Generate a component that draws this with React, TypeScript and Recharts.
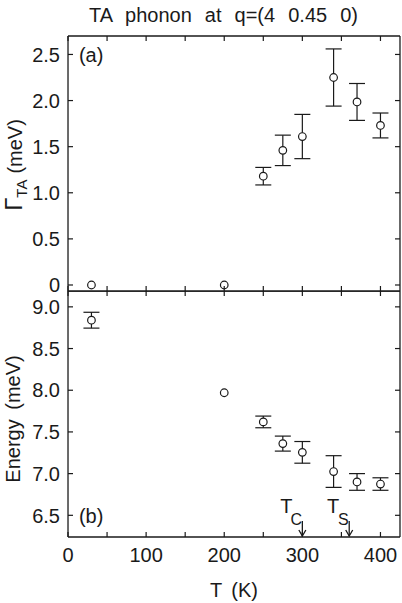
import React from "react";
import { ScatterChart, Scatter, XAxis, YAxis, ErrorBar, ReferenceDot } from "recharts";

// TA phonon at q=(4 0.45 0): linewidth (a) and energy (b) vs temperature
const temps = [30, 200, 250, 275, 300, 340, 370, 400];
const gamma = [0, 0, 1.18, 1.46, 1.61, 2.25, 1.985, 1.73];
const gammaErr = [null, null, 0.095, 0.165, 0.24, 0.31, 0.2, 0.135];
const energy = [8.84, 7.97, 7.62, 7.36, 7.255, 7.025, 6.9, 6.875];
const energyErr = [0.095, null, 0.07, 0.09, 0.13, 0.19, 0.1, 0.075];

const tTicks = [0, 50, 100, 150, 200, 250, 300, 350, 400];
const tLabels = [0, 100, 200, 300, 400];
const gammaTicks = [0, 0.5, 1.0, 1.5, 2.0, 2.5];
const energyTicks = [6.5, 7.0, 7.5, 8.0, 8.5, 9.0];
const transitions = [
  { t: 300, sub: "C" },
  { t: 360, sub: "S" },
];

const tDomain = [0, 425];
const gammaDomain = [-0.065, 2.7];
const energyDomain = [6.24, 9.19];

const INK = "#1a1a1a";
const FONT = "'Liberation Sans', Arial, sans-serif";
const W = 402;
const TICK = 5;
// recharts skips axes whose size is 0, so keep them a hair above it
const THIN = 0.01;

const gammaData = temps.map((t, i) => ({ t, v: gamma[i], err: gammaErr[i] }));
const energyData = temps.map((t, i) => ({ t, v: energy[i], err: energyErr[i] }));

const fmt = (v: number) => (v === 0 ? "0" : v.toFixed(1));

function LeftTick({ x, y, payload }: any) {
  return (
    <g>
      <line x1={x} x2={x + TICK} y1={y} y2={y} stroke={INK} strokeWidth={1.2} />
      <text x={x - 8} y={y} dy="0.36em" textAnchor="end" fontSize={20} fontFamily={FONT} fill={INK}>
        {fmt(payload.value)}
      </text>
    </g>
  );
}

function RightTick({ x, y }: any) {
  return <line x1={x} x2={x - TICK} y1={y} y2={y} stroke={INK} strokeWidth={1.2} />;
}

function TopTick({ x, y }: any) {
  return <line x1={x} x2={x} y1={y} y2={y + TICK} stroke={INK} strokeWidth={1.2} />;
}

function BottomTick({ x, y, payload, labels }: any) {
  return (
    <g>
      <line x1={x} x2={x} y1={y} y2={y - TICK} stroke={INK} strokeWidth={1.2} />
      {labels && tLabels.includes(payload.value) && (
        <text x={x} y={y + 25} textAnchor="middle" fontSize={20} fontFamily={FONT} fill={INK}>
          {payload.value}
        </text>
      )}
    </g>
  );
}

function OpenCircle({ cx, cy }: any) {
  return <circle cx={cx} cy={cy} r={3.8} fill="#fff" stroke={INK} strokeWidth={1.2} />;
}

function TransitionMark({ cx, cy, sub }: any) {
  return (
    <g fill={INK} fontFamily={FONT}>
      <text x={cx - 16} y={cy - 24} textAnchor="middle" fontSize={20}>T</text>
      <text x={cx - 6} y={cy - 12} textAnchor="middle" fontSize={16}>{sub}</text>
      <line x1={cx} x2={cx} y1={cy - 16} y2={cy - 1} stroke={INK} strokeWidth={1.3} />
      <path d={`M${cx - 3.5},${cy - 7} L${cx},${cy - 1} L${cx + 3.5},${cy - 7}`} fill="none" stroke={INK} strokeWidth={1.3} />
    </g>
  );
}

function Panel({ data, domain, ticks, height, margin, tag, tagY, showLabels, children }: any) {
  return (
    <ScatterChart width={W} height={height} margin={margin}>
      <XAxis xAxisId="top" orientation="top" type="number" dataKey="t" domain={tDomain} ticks={tTicks}
        interval={0} height={THIN} tickSize={0} tickMargin={0} tickLine={false} allowDataOverflow
        axisLine={{ stroke: INK, strokeWidth: 1.3 }} tick={<TopTick />} />
      <XAxis xAxisId="bottom" orientation="bottom" type="number" dataKey="t" domain={tDomain} ticks={tTicks}
        interval={0} height={THIN} tickSize={0} tickMargin={0} tickLine={false} allowDataOverflow
        axisLine={{ stroke: INK, strokeWidth: 1.3 }} tick={<BottomTick labels={showLabels} />} />
      <YAxis yAxisId="left" orientation="left" type="number" dataKey="v" domain={domain} ticks={ticks}
        interval={0} width={THIN} tickSize={0} tickMargin={0} tickLine={false} allowDataOverflow
        axisLine={{ stroke: INK, strokeWidth: 1.3 }} tick={<LeftTick />} />
      <YAxis yAxisId="right" orientation="right" type="number" dataKey="v" domain={domain} ticks={ticks}
        interval={0} width={THIN} tickSize={0} tickMargin={0} tickLine={false} allowDataOverflow
        axisLine={{ stroke: INK, strokeWidth: 1.3 }} tick={<RightTick />} />
      <Scatter data={data} xAxisId="bottom" yAxisId="left" shape={<OpenCircle />} isAnimationActive={false}>
        <ErrorBar dataKey="err" direction="y" width={8} stroke={INK} strokeWidth={1.2} isAnimationActive={false} />
      </Scatter>
      <ReferenceDot xAxisId="bottom" yAxisId="left" x={14} y={tagY} r={0}
        shape={(p: any) => (
          <text x={p.cx} y={p.cy} dy="0.36em" fontSize={20} fontFamily={FONT} fill={INK}>{tag}</text>
        )} />
      {children}
    </ScatterChart>
  );
}

export default function App() {
  return (
    <div style={{ position: "absolute", left: 0, top: 0, width: W, height: 603, background: "#fff" }}>
      <div style={{ position: "absolute", left: 0, top: 0 }}>
        <Panel data={gammaData} domain={gammaDomain} ticks={gammaTicks} height={301}
          margin={{ top: 36, right: 2, bottom: 10, left: 68 }} tag="(a)" tagY={2.5} showLabels={false} />
      </div>
      <div style={{ position: "absolute", left: 0, top: 291 }}>
        <Panel data={energyData} domain={energyDomain} ticks={energyTicks} height={312}
          margin={{ top: 0, right: 2, bottom: 66, left: 68 }} tag="(b)" tagY={6.5} showLabels>
          {transitions.map((m) => (
            <ReferenceDot key={m.sub} xAxisId="bottom" yAxisId="left" x={m.t} y={energyDomain[0]} r={0}
              shape={(p: any) => <TransitionMark cx={p.cx} cy={p.cy} sub={m.sub} />} />
          ))}
        </Panel>
      </div>
      <svg width={W} height={603} style={{ position: "absolute", left: 0, top: 0, pointerEvents: "none" }}
        fontFamily={FONT} fill={INK}>
        <text x={89} y={22} fontSize={20} style={{ wordSpacing: 7.5 }}>
          TA phonon at q=(4 0.45 0)
        </text>
        <text transform="translate(22,165) rotate(-90)" textAnchor="middle" fontSize={20}>
          <tspan fontSize={24}>Γ</tspan>
          <tspan fontSize={15} dy={5}>TA</tspan>
          <tspan dy={-5} dx={6}>(meV)</tspan>
        </text>
        <text transform="translate(20,419) rotate(-90)" textAnchor="middle" fontSize={20} style={{ wordSpacing: 4 }}>
          Energy (meV)
        </text>
        <text x={234} y={597} textAnchor="middle" fontSize={20} style={{ wordSpacing: 4 }}>
          T (K)
        </text>
      </svg>
    </div>
  );
}
